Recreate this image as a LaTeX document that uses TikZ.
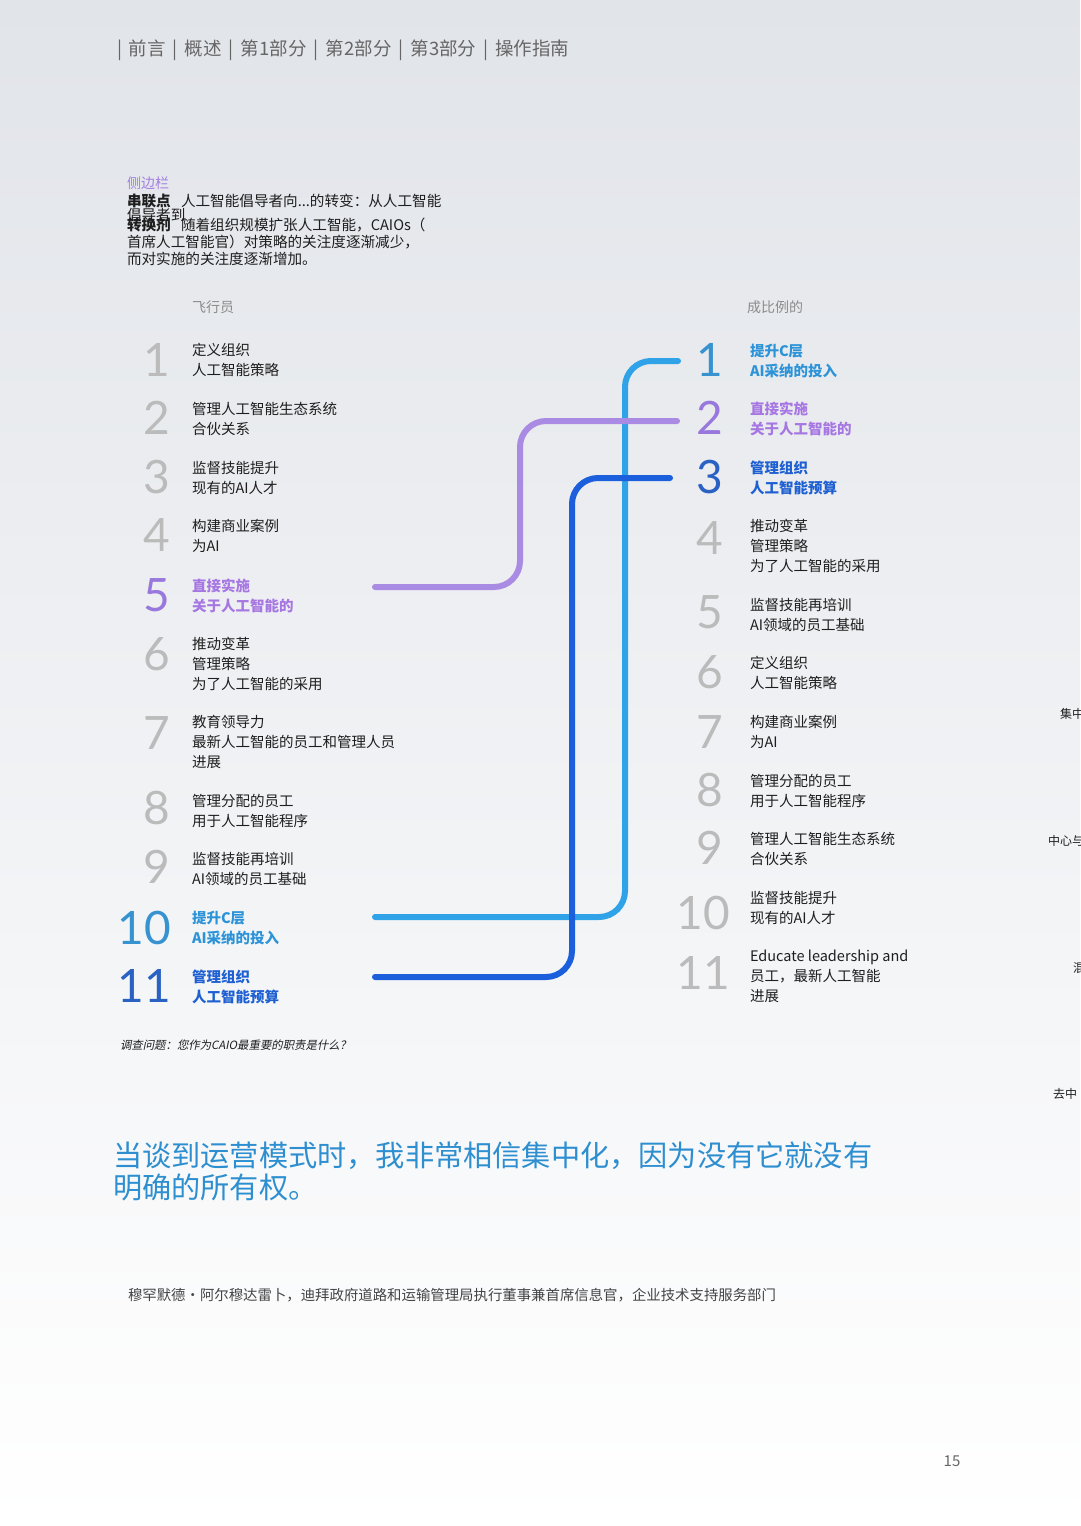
\documentclass[tikz,border=0pt]{standalone}
\usepackage{fontspec}
\setmainfont{Noto Sans CJK SC}
\newfontfamily\numfont{Lato}
\newfontfamily\itfont[FakeSlant=0.2]{Noto Sans CJK SC}
\definecolor{bgtop}{HTML}{E1E4E9}
\definecolor{bgmid}{HTML}{ECEEF1}
\definecolor{bgbot}{HTML}{FFFFFF}
\definecolor{hdrgray}{HTML}{666666}
\definecolor{lblgray}{HTML}{8C8C8C}
\definecolor{numgray}{HTML}{BBBBBB}
\definecolor{txt}{HTML}{1E1E1E}
\definecolor{sidepurple}{HTML}{A27FE0}
\definecolor{cpurple}{HTML}{A98BE3}
\definecolor{clblue}{HTML}{2FA2E8}
\definecolor{cdblue}{HTML}{1B5FDC}
\definecolor{tpurple}{HTML}{A676E2}
\definecolor{tlblue}{HTML}{2C93D8}
\definecolor{tdblue}{HTML}{1E60D2}
\definecolor{npurple}{HTML}{9878DC}
\definecolor{nlblue}{HTML}{3792D0}
\definecolor{ndblue}{HTML}{2A62C4}
\definecolor{quoteblue}{HTML}{2D8FD0}
\definecolor{attrgray}{HTML}{444444}
\newcommand{\hdrsep}{\hspace{7pt}|\hspace{7pt}}
\begin{document}
\begin{tikzpicture}[x=1pt,y=-1pt,
  every node/.style={inner sep=0pt, outer sep=0pt},
  item/.style={anchor=north west, align=left, text=txt, font=\fontsize{14.5}{20}\selectfont},
  hpurple/.style={item, text=tpurple, font=\fontsize{14.5}{20}\selectfont\bfseries},
  hlblue/.style={item, text=tlblue, font=\fontsize{14.5}{20}\selectfont\bfseries},
  hdblue/.style={item, text=tdblue, font=\fontsize{14.5}{20}\selectfont\bfseries},
  num/.style={anchor=center, text=numgray, font=\numfont\fontsize{46}{46}\selectfont},
  side/.style={anchor=base west, text=txt, font=\fontsize{14.6}{17}\selectfont},
  sidebold/.style={side, font=\fontsize{14.6}{17}\selectfont\bfseries},
  graylbl/.style={anchor=base west, text=lblgray, font=\fontsize{14}{16}\selectfont},
  edge/.style={anchor=base west, text=txt, font=\fontsize{12}{14}\selectfont},
  conn/.style={line width=6pt, line cap=round, rounded corners=26pt},
]
\useasboundingbox (0,0) rectangle (1080,1526);
\clip (0,0) rectangle (1080,1526);
\shade[top color=bgtop, middle color=bgmid, bottom color=bgbot] (0,0) rectangle (1080,1526);

% header
\node[anchor=base west, text=hdrgray, font=\fontsize{18.5}{20}\selectfont] (hdr) at (117,55) {|\hspace{7pt}前言\hdrsep 概述\hdrsep 第1部分\hdrsep 第2部分\hdrsep 第3部分\hdrsep 操作指南};

% sidebar
\node[anchor=base west, text=sidepurple, font=\fontsize{14}{15}\selectfont] (sb) at (127,188) {侧边栏};
\node[sidebold] (sbA) at (127,206) {串联点};
\node[side] (sbA2) at (181,206) {人工智能倡导者向...的转变：从人工智能};
\node[side] (sbB) at (127,220) {倡导者到};
\node[sidebold] (sbC) at (127,230) {转换剂};
\node[side] (sbC2) at (181,230) {随着组织规模扩张人工智能，CAIOs（};
\node[side] (sbD) at (127,247) {首席人工智能官）对策略的关注度逐渐减少，};
\node[side] (sbE) at (127,264) {而对实施的关注度逐渐增加。};

% column labels
\node[graylbl] (pilot) at (192,312) {飞行员};
\node[graylbl] (scale) at (747,312) {成比例的};

% left column
\node[num] (L1n) at (157,360) {1};
\node[item] (L1) at (192,343) {定义组织\\人工智能策略};
\node[num] (L2n) at (157,418) {2};
\node[item] (L2) at (192,402) {管理人工智能生态系统\\合伙关系};
\node[num] (L3n) at (157,477) {3};
\node[item] (L3) at (192,461) {监督技能提升\\现有的AI人才};
\node[num] (L4n) at (157,535) {4};
\node[item] (L4) at (192,519) {构建商业案例\\为AI};
\node[num, text=npurple] (L5n) at (157,595) {5};
\node[hpurple] (L5) at (192,579) {直接实施\\关于人工智能的};
\node[num] (L6n) at (157,654) {6};
\node[item] (L6) at (192,637) {推动变革\\管理策略\\为了人工智能的采用};
\node[num] (L7n) at (157,733) {7};
\node[item] (L7) at (192,715) {教育领导力\\最新人工智能的员工和管理人员\\进展};
\node[num] (L8n) at (157,808) {8};
\node[item] (L8) at (192,794) {管理分配的员工\\用于人工智能程序};
\node[num] (L9n) at (157,867) {9};
\node[item] (L9) at (192,852) {监督技能再培训\\AI领域的员工基础};
\node[num, text=nlblue] (L10n) at (144,928) {10};
\node[hlblue] (L10) at (192,911) {提升C层\\AI采纳的投入};
\node[num, text=ndblue] (L11n) at (144,986) {11};
\node[hdblue] (L11) at (192,970) {管理组织\\人工智能预算};

% right column
\node[num, text=nlblue] (R1n) at (710,360) {1};
\node[hlblue] (R1) at (750,344) {提升C层\\AI采纳的投入};
\node[num, text=npurple] (R2n) at (710,418) {2};
\node[hpurple] (R2) at (750,402) {直接实施\\关于人工智能的};
\node[num, text=ndblue] (R3n) at (710,477) {3};
\node[hdblue] (R3) at (750,461) {管理组织\\人工智能预算};
\node[num] (R4n) at (710,538) {4};
\node[item] (R4) at (750,519) {推动变革\\管理策略\\为了人工智能的采用};
\node[num] (R5n) at (710,612) {5};
\node[item] (R5) at (750,598) {监督技能再培训\\AI领域的员工基础};
\node[num] (R6n) at (710,672) {6};
\node[item] (R6) at (750,656) {定义组织\\人工智能策略};
\node[num] (R7n) at (710,732) {7};
\node[item] (R7) at (750,715) {构建商业案例\\为AI};
\node[num] (R8n) at (710,790) {8};
\node[item] (R8) at (750,774) {管理分配的员工\\用于人工智能程序};
\node[num] (R9n) at (710,848) {9};
\node[item] (R9) at (750,832) {管理人工智能生态系统\\合伙关系};
\node[num] (R10n) at (703,913) {10};
\node[item] (R10) at (750,891) {监督技能提升\\现有的AI人才};
\node[num] (R11n) at (703,973) {11};
\node[item] (R11) at (750,950) {Educate leadership and\\员工，最新人工智能\\进展};

% connectors
\coordinate (a5) at (375,587);
\coordinate (b2) at (677,421);
\coordinate (v5) at (520,0);
\coordinate (a10) at (375,917);
\coordinate (b1) at (678,361);
\coordinate (v10) at (625,0);
\coordinate (a11) at (375,977);
\coordinate (b3) at (670,478);
\coordinate (v11) at (572,0);
\draw[conn, clblue] (a10) -- (a10 -| v10) -- (b1 -| v10) -- (b1);
\draw[conn, cpurple] (a5) -- (a5 -| v5) -- (b2 -| v5) -- (b2);
\draw[conn, cdblue] (a11) -- (a11 -| v11) -- (b3 -| v11) -- (b3);

% right edge fragments
\node[edge] (e1) at (1060,718) {集中};
\node[edge] (e2) at (1048,845) {中心与};
\node[edge] (e3) at (1073,972) {混};
\node[edge] (e4) at (1053,1098) {去中};

% survey
\node[anchor=base west, text=txt, font=\itfont\fontsize{11.4}{13}\selectfont] (survey) at (120,1049) {调查问题：您作为CAIO最重要的职责是什么？};

% quote
\node[anchor=north west, align=left, text=quoteblue, font=\fontsize{29.2}{32}\selectfont] (quote) at (113,1142) {当谈到运营模式时，我非常相信集中化，因为没有它就没有\\明确的所有权。};

% attribution
\node[anchor=base west, text=attrgray, font=\fontsize{14.4}{16}\selectfont] (attr) at (128,1300) {穆罕默德·阿尔穆达雷卜，迪拜政府道路和运输管理局执行董事兼首席信息官，企业技术支持服务部门};

% page number
\node[anchor=center, text=hdrgray, font=\fontsize{15}{16}\selectfont] (pg) at (952,1461) {15};
\end{tikzpicture}
\end{document}
